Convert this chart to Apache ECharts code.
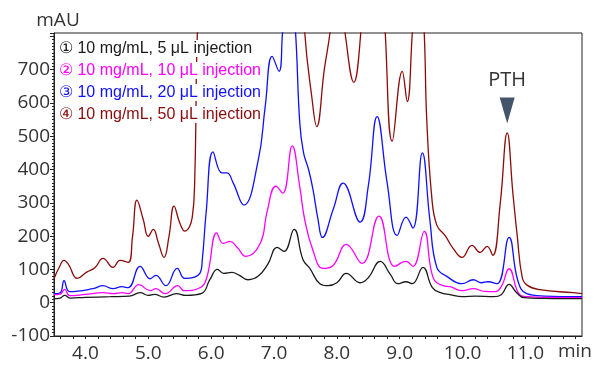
<!DOCTYPE html>
<html>
<head>
<meta charset="utf-8">
<script src="https://cdn.jsdelivr.net/npm/echarts@6/dist/echarts.min.js"></script>
<style>
  html, body { margin: 0; padding: 0; background: #fff; }
  #chart { width: 594px; height: 365px; }
</style>
</head>
<body>
<div id="chart"></div>
<script>
// legend names
const seriesNames = [
  '① 10 mg/mL, 5 μL injection',
  '② 10 mg/mL, 10 μL injection',
  '③ 10 mg/mL, 20 μL injection',
  '④ 10 mg/mL, 50 μL injection'
];
const seriesColors = ['#1a1a1a', '#ff00ff', '#1010ff', '#8b0b0b'];

// retention time (min) / absorbance (mAU)
const time5 = [3.5, 3.6, 3.67, 3.76, 4.0, 4.4, 4.7, 4.87, 5.0, 5.1, 5.25, 5.45, 5.6, 5.85, 5.98, 6.1, 6.2, 6.33, 6.45, 6.59, 6.75, 6.9, 7.05, 7.16, 7.32, 7.46, 7.57, 7.73, 7.86, 8.0, 8.15, 8.37, 8.5, 8.69, 8.85, 8.97, 9.1, 9.2, 9.37, 9.52, 9.65, 9.8, 10.0, 10.2, 10.5, 10.62, 10.74, 10.86, 10.98, 11.3, 11.9];
const abs5 = [12, 14, 22, 14, 16, 18, 20, 30, 22, 25, 17, 27, 22, 28, 69, 100, 88, 91, 82, 69, 80, 115, 166, 154, 220, 130, 103, 57, 51, 60, 88, 60, 75, 124, 85, 57, 63, 57, 106, 45, 30, 24, 18, 20, 18, 25, 55, 30, 15, 13, 12];

const time10 = [3.5, 3.6, 3.67, 3.75, 4.0, 4.28, 4.45, 4.58, 4.68, 4.85, 5.03, 5.12, 5.27, 5.47, 5.57, 5.82, 5.93, 6.09, 6.19, 6.3, 6.42, 6.55, 6.78, 6.89, 7.03, 7.14, 7.29, 7.41, 7.49, 7.62, 7.78, 7.94, 8.15, 8.4, 8.67, 8.92, 9.1, 9.21, 9.39, 9.53, 9.69, 9.8, 10.0, 10.17, 10.35, 10.52, 10.62, 10.74, 10.91, 11.05, 11.4, 11.9];
const abs10 = [24, 26, 40, 21, 25, 30, 27, 30, 27, 54, 36, 42, 27, 51, 36, 45, 75, 210, 178, 184, 165, 139, 178, 273, 350, 329, 471, 348, 248, 157, 103, 112, 175, 118, 260, 109, 124, 109, 214, 76, 51, 48, 36, 42, 34, 33, 50, 102, 24, 18, 16, 15];

const time20 = [3.5, 3.6, 3.66, 3.75, 4.12, 4.28, 4.44, 4.58, 4.68, 4.87, 5.03, 5.12, 5.28, 5.46, 5.58, 5.82, 5.86, 5.92, 6.03, 6.17, 6.25, 6.35, 6.52, 6.75, 6.86, 6.97, 7.08, 7.14, 7.25, 7.34, 7.41, 7.47, 7.55, 7.62, 7.7, 7.77, 7.94, 8.1, 8.37, 8.5, 8.64, 8.8, 8.96, 9.1, 9.21, 9.36, 9.48, 9.59, 9.75, 9.99, 10.17, 10.3, 10.4, 10.55, 10.74, 10.88, 11.02, 11.3, 11.9];
const abs20 = [27, 30, 66, 33, 42, 51, 42, 48, 45, 109, 72, 82, 51, 103, 73, 88, 130, 270, 453, 390, 390, 360, 293, 429, 589, 740, 695, 820, 1000, 820, 540, 450, 400, 340, 250, 196, 279, 359, 242, 350, 559, 360, 202, 257, 224, 450, 248, 106, 79, 57, 69, 60, 63, 57, 196, 66, 27, 20, 18];

const time50 = [3.5, 3.58, 3.66, 3.73, 3.87, 4.02, 4.15, 4.28, 4.44, 4.55, 4.68, 4.75, 4.82, 4.92, 5.0, 5.08, 5.16, 5.25, 5.33, 5.41, 5.5, 5.58, 5.7, 5.74, 5.8, 6.0, 6.3, 6.6, 7.0, 7.3, 7.43, 7.49, 7.6, 7.68, 7.8, 7.89, 8.0, 8.13, 8.27, 8.38, 8.6, 8.77, 8.88, 9.04, 9.12, 9.2, 9.3, 9.39, 9.43, 9.51, 9.59, 9.72, 9.85, 9.99, 10.15, 10.28, 10.39, 10.48, 10.6, 10.71, 10.8, 10.87, 10.95, 11.03, 11.23, 11.76, 11.9];
const abs50 = [72, 105, 127, 115, 73, 92, 105, 133, 106, 127, 121, 200, 308, 250, 199, 220, 180, 136, 200, 290, 240, 215, 257, 380, 900, 1400, 1200, 1000, 1800, 2200, 1100, 810, 620, 529, 700, 810, 1000, 810, 662, 810, 1400, 810, 485, 695, 604, 810, 1100, 810, 550, 317, 233, 202, 163, 136, 172, 151, 169, 142, 300, 510, 330, 200, 75, 52, 39, 30, 27];

// axis ticks / labels
const xTicks = [3.6, 3.8, 4.0, 4.2, 4.4, 4.6, 4.8, 5.0, 5.2, 5.4, 5.6, 5.8, 6.0, 6.2, 6.4, 6.6, 6.8, 7.0, 7.2, 7.4, 7.6, 7.8, 8.0, 8.2, 8.4, 8.6, 8.8, 9.0, 9.2, 9.4, 9.6, 9.8, 10.0, 10.2, 10.4, 10.6, 10.8, 11.0, 11.2, 11.4, 11.6, 11.8];
const xLabels = [4, 5, 6, 7, 8, 9, 10, 11];

// PTH marker
const pthTime = 10.71;
const pthMarkY = 577;

const times = [time5, time10, time20, time50];
const values = [abs5, abs10, abs20, abs50];

const axisFont = 'Open Sans';
const chart = echarts.init(document.getElementById('chart'));

const series = seriesNames.map((name, i) => ({
  name: name,
  type: 'line',
  data: times[i].map((t, j) => [t, values[i][j]]),
  smooth: 0.45,
  showSymbol: false,
  clip: true,
  lineStyle: { width: 1.3, color: seriesColors[i] },
  itemStyle: { color: seriesColors[i] },
  z: 5 - i
}));

series[3].markPoint = {
  symbol: 'path://M0,0L16,0L8,26Z',
  symbolSize: [15, 26],
  itemStyle: { color: '#44546a' },
  label: {
    show: true,
    position: 'top',
    distance: 7,
    formatter: 'PTH',
    color: '#333',
    fontSize: 20,
    fontFamily: axisFont
  },
  data: [{ name: 'PTH', coord: [pthTime, pthMarkY] }]
};

const option = {
  animation: false,
  backgroundColor: '#fff',
  grid: {
    left: 54, right: 12, top: 33, bottom: 29,
    show: true, borderColor: '#222', borderWidth: 1, backgroundColor: '#fff'
  },
  legend: {
    orient: 'vertical',
    left: 49,
    top: 35,
    icon: 'none',
    itemWidth: 0,
    itemHeight: 14,
    itemGap: 5,
    selectedMode: false,
    textStyle: {
      fontFamily: 'Liberation Sans',
      fontSize: 16,
      lineHeight: 17,
      backgroundColor: '#fff'
    },
    data: seriesNames.map((n, i) => ({ name: n, textStyle: { color: seriesColors[i] } }))
  },
  graphic: [{
    type: 'text',
    right: 2,
    top: 342,
    style: { text: 'min', fill: '#333', font: '19px "Open Sans"' }
  }],
  xAxis: {
    type: 'value',
    min: 3.5,
    max: 11.9,
    axisLine: { show: true, onZero: false, lineStyle: { color: '#222', width: 1 } },
    axisTick: { show: true, length: 3, customValues: xTicks, lineStyle: { color: '#222' } },
    axisLabel: {
      customValues: xLabels,
      margin: 8,
      color: '#333',
      fontSize: 19,
      fontFamily: axisFont,
      formatter: v => v.toFixed(1)
    },
    splitLine: { show: false }
  },
  yAxis: {
    type: 'value',
    min: -100,
    max: 810,
    interval: 100,
    name: 'mAU',
    nameLocation: 'end',
    nameGap: 3,
    nameTextStyle: { color: '#333', fontSize: 19, fontFamily: axisFont, padding: [0, 0, 0, 8] },
    axisLine: { show: true, onZero: false, lineStyle: { color: '#222', width: 1 } },
    axisTick: { show: true, length: 4, lineStyle: { color: '#222' } },
    minorTick: { show: true, splitNumber: 10, length: 2, lineStyle: { color: '#222' } },
    axisLabel: {
      margin: 4,
      color: '#333',
      fontSize: 19,
      fontFamily: axisFont,
      formatter: v => (v > 700 ? '' : String(v))
    },
    splitLine: { show: false },
    minorSplitLine: { show: false }
  },
  series: series
};

chart.setOption(option);
</script>
</body>
</html>
